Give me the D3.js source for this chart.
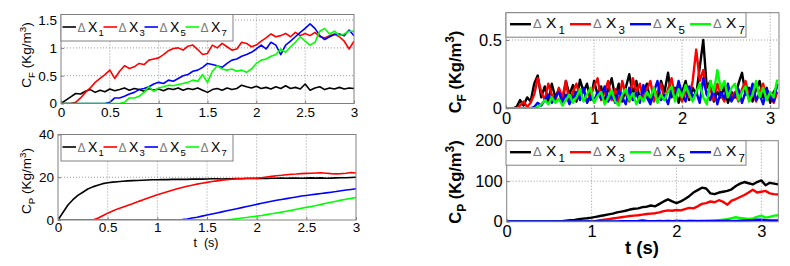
<!DOCTYPE html>
<html><head><meta charset="utf-8">
<script src="https://cdn.jsdelivr.net/npm/d3@7"></script>
<style>
body{margin:0;background:#fff}
svg{display:block}
text{font-family:"Liberation Sans",Arial,Helvetica,sans-serif}
</style>
</head><body>
<svg id="c" width="790" height="266"></svg>
<script>
// ---------------- DATA ----------------
// Left panels sampled every 0.05 s (t = 0 … 3)
const leftStep = 0.05;
// Top-left C_F
const tlX1 = [0,0.06,0.12,0.18,0.17,0.22,0.25,0.2,0.24,0.21,
 0.26,0.23,0.25,0.28,0.24,0.27,0.25,0.22,0.27,0.24,
 0.26,0.23,0.27,0.25,0.28,0.24,0.27,0.25,0.28,0.24,
 0.2,0.25,0.27,0.24,0.28,0.25,0.27,0.33,0.3,0.28,
 0.31,0.27,0.29,0.26,0.3,0.27,0.32,0.27,0.29,0.26,
 0.35,0.24,0.28,0.3,0.25,0.28,0.26,0.29,0.26,0.28,
 0.27];
const tlX3 = [0,0,0,0.02,0.1,0.2,0.28,0.38,0.45,0.52,
 0.6,0.45,0.58,0.68,0.63,0.66,0.72,0.7,0.78,0.8,
 0.82,0.88,0.95,0.99,1.0,0.96,1.03,1.05,0.97,0.88,
 0.9,1.05,1.0,1.08,1.02,0.96,0.98,1.1,1.08,1.02,
 1.05,1.12,1.18,1.25,1.2,1.22,1.26,1.2,1.28,1.22,
 1.26,1.22,1.28,1.2,1.18,1.22,1.25,1.2,1.12,0.98,
 1.12];
const tlX5 = [0,0,0,0,0,0,0,0,0,0,
 0.02,0.1,0.1,0.13,0.17,0.2,0.25,0.27,0.3,0.35,
 0.38,0.36,0.42,0.4,0.45,0.5,0.52,0.58,0.6,0.65,
 0.72,0.7,0.68,0.65,0.72,0.78,0.8,0.85,0.88,0.92,
 0.98,1.05,0.98,1.1,1.05,0.88,1.05,1.12,1.2,1.28,
 1.35,1.43,1.35,1.22,1.15,1.2,1.24,1.25,1.22,1.32,
 1.22];
const tlX7 = [0,0,0,0,0,0,0,0,0,0,
 0,0,0,0.02,0.1,0.1,0.13,0.2,0.3,0.22,
 0.28,0.3,0.33,0.32,0.34,0.36,0.38,0.42,0.4,0.52,
 0.38,0.58,0.68,0.62,0.6,0.62,0.58,0.6,0.56,0.62,
 0.72,0.78,0.8,0.85,0.88,0.98,0.92,1.02,1.1,1.2,
 1.12,1.05,1.1,1.3,1.35,1.25,1.3,1.22,1.25,1.3,
 1.3];
// Bottom-left C_P
const blX1 = [0,3.5,7,9.5,11.5,13,14.5,15.5,16.3,17,
 17.4,17.7,17.9,18.1,18.3,18.4,18.5,18.6,18.7,18.8,
 18.8,18.9,18.9,19,19,19,19,19.1,19.1,19.1,
 19.2,19.3,19.3,19.2,19.3,19.3,19.4,19.3,19.4,19.4,
 19.4,19.5,19.4,19.5,19.5,19.6,19.5,19.6,19.6,19.5,
 19.6,19.7,19.6,19.7,19.5,19.6,19.7,19.8,19.8,19.9,
 20];
const blX3 = [0,0,0,0,0,0,0,0,0.8,2,
 3.2,4.2,5.2,6,6.8,7.6,8.5,9.3,10.2,11,
 11.8,12.5,13.2,13.9,14.6,15.2,15.8,16.3,16.8,17.2,
 17.6,18,18.3,18.6,18.9,19.1,19.3,19.4,19.5,19.5,
 19.6,19.8,20.1,20.4,20.7,20.9,21.2,21.4,21.5,21.7,
 21.8,21.9,22,22.1,21.9,21.7,21.6,21.7,21.9,22.2,
 22];
const blX5 = [0,0,0,0,0,0,0,0,0,0,
 0,0,0,0,0,0,0,0,0,0,
 0,0,0,0,0,0.2,0.5,0.9,1.3,1.8,
 2.3,2.8,3.3,3.8,4.3,4.8,5.3,5.8,6.3,6.8,
 7.3,7.8,8.3,8.8,9.2,9.6,10,10.4,10.8,11.2,
 11.5,11.8,12.1,12.4,12.7,13,13.3,13.7,14,14.3,
 14.6];
const blX7 = [0,0,0,0,0,0,0,0,0,0,
 0,0,0,0,0,0,0,0,0,0,
 0,0,0,0,0,0,0,0,0,0,
 0,0,0,0,0.1,0.3,0.6,0.9,1.2,1.5,
 1.8,2.1,2.5,2.9,3.3,3.7,4.1,4.5,5,5.5,
 5.9,6.3,6.8,7.3,7.8,8.3,8.8,9.3,9.7,10.1,
 10.5];

// Top-right C_F sampled every 0.04 s
const trStep = 0.04;
const trX1 = [0,0,0,0.01,0.06,0.02,0.08,0.05,0.18,0.24,
 0.08,0.16,0.05,0.18,0.08,0.14,0.04,0.2,0.1,0.17,
 0.05,0.21,0.12,0.18,0.06,0.2,0.1,0.16,0.04,0.14,
 0.22,0.08,0.18,0.05,0.15,0.25,0.1,0.2,0.06,0.12,
 0.18,0.05,0.15,0.08,0.2,0.12,0.26,0.08,0.15,0.04,
 0.12,0.2,0.06,0.15,0.1,0.3,0.5,0.15,0.2,0.05,
 0.12,0.08,0.16,0.04,0.12,0.08,0.18,0.26,0.1,0.15,
 0.05,0.14,0.2,0.08,0.15,0.04,0.12,0.16];
const trX3 = [0,0,0,0,0.02,0.05,0.01,0.04,0.1,0.22,
 0.12,0.06,0.18,0.1,0.05,0.15,0.08,0.2,0.04,0.12,
 0.18,0.08,0.14,0.05,0.1,0.16,0.22,0.06,0.12,0.2,
 0.06,0.14,0.04,0.2,0.1,0.05,0.22,0.12,0.18,0.06,
 0.14,0.2,0.05,0.12,0.18,0.06,0.14,0.22,0.08,0.16,
 0.05,0.12,0.08,0.2,0.43,0.2,0.28,0.1,0.14,0.06,
 0.18,0.1,0.05,0.16,0.08,0.12,0.05,0.14,0.2,0.08,
 0.16,0.05,0.12,0.18,0.06,0.1,0.04,0.12];
const trX5 = [0,0,0,0,0,0,0,0,0.01,0.04,
 0.02,0.06,0.1,0.04,0.08,0.12,0.05,0.1,0.03,0.08,
 0.12,0.06,0.15,0.04,0.09,0.05,0.12,0.07,0.16,0.05,
 0.1,0.04,0.13,0.08,0.03,0.15,0.06,0.11,0.04,0.17,
 0.08,0.03,0.12,0.2,0.06,0.1,0.03,0.14,0.08,0.2,
 0.1,0.05,0.16,0.08,0.12,0.04,0.22,0.1,0.06,0.15,
 0.03,0.12,0.07,0.18,0.05,0.1,0.14,0.04,0.12,0.08,
 0.18,0.06,0.1,0.03,0.14,0.08,0.05,0.18];
const trX7 = [0,0,0,0,0,0,0,0,0,0.01,
 0.03,0.06,0.03,0.08,0.04,0.07,0.02,0.06,0.1,0.04,
 0.08,0.14,0.05,0.1,0.15,0.04,0.09,0.12,0.03,0.08,
 0.13,0.05,0.02,0.1,0.14,0.06,0.11,0.03,0.09,0.05,
 0.12,0.08,0.15,0.04,0.1,0.06,0.12,0.16,0.05,0.14,
 0.08,0.17,0.1,0.05,0.12,0.18,0.08,0.03,0.2,0.12,
 0.28,0.14,0.2,0.08,0.15,0.18,0.06,0.12,0.16,0.05,
 0.1,0.2,0.08,0.15,0.06,0.12,0.08,0.21];

// Bottom-right C_P sampled every 0.05 s (t = 0 … 3.2)
const brStep = 0.05;
const brX1 = [0,0,0,0,0,0,0,0,0,0,
 0.2,0.5,1,1.5,2.5,3.5,4.5,6,7.5,8.5,
 10,12,14,16,18,20,23,25,27,30,
 32,33,36,37,40,38,44,50,55,50,
 46,50,56,63,72,78,84,82,70,68,
 72,74,76,80,88,94,98,95,92,98,
 102,90,96,94,92];
const brX3 = [0,0,0,0,0,0,0,0,0,0,
 0,0,0,0,0,0,0,0,0.3,0.6,
 1,2,3.5,5,6.5,8,9.5,11,12.5,14,
 15,16,17.5,19,20,21,23,26,28,27,
 29,28,31,34,33,38,44,46,50,48,
 53,49,42,52,56,61,66,72,79,72,
 74,76,70,68,67];
const brX5 = [0,0,0,0,0,0,0,0,0,0,
 0,0,0,0,0,0,0,0,0,0,
 0,0,0,0,0,0,0,0,0,0,
 0,0,0,0,0,0,0,1,2,1,
 2,1,1.5,2,1,2,1.5,2,3,2.5,
 4,5,6,9,11,9,8,7,8,12,
 15,10,12,15,16];
const brX7 = [0.5,0.5,0.5,0.5,0.5,0.5,0.5,0.5,0.5,0.5,
 0.5,0.5,0.5,0.5,0.5,0.5,0.5,0.5,0.5,0.5,
 0.5,0.5,0.5,0.5,0.5,0.8,0.8,1,1,1,
 1.5,2,3,2,1.5,1.5,2,1.5,2,1.5,
 2,2,1.5,2,2,1.5,2,2,1.5,2,
 2,2,2.5,2,2,2.5,3,3,4,5,
 5,4,3,3,3];

// Tick values / labels
const leftXTicks = [0,0.5,1,1.5,2,2.5,3];
const tlYTicks = [0,0.5,1,1.5];
const blYTicks = [0,20,40];
const rightXTicks = [0,1,2,3];
const trYTicks = [0,0.5];
const brYTicks = [0,100,200];
const legendSubs = ["1","3","5","7"];
const colBlack = "#000000", colRed = "#ff0000", colBlue = "#0000ff", colGreen = "#00ff00";

// ---------------- DRAW ----------------
const FONT = '"Liberation Sans",Arial,Helvetica,sans-serif';
const svg = d3.select("#c");
let clipId = 0;

function panel(p){
  const g = svg.append("g");
  const b = p.box;
  const x = d3.scaleLinear().domain(p.xd).range([b.x0, b.x1]);
  const y = d3.scaleLinear().domain(p.yd).range([b.y1, b.y0]);
  g.append("rect").attr("x",b.x0).attr("y",b.y0).attr("width",b.x1-b.x0).attr("height",b.y1-b.y0).attr("fill","#fff");
  // grid
  g.selectAll(".gx").data(p.xGrid).join("line")
    .attr("x1",d=>x(d)).attr("x2",d=>x(d)).attr("y1",b.y0).attr("y2",b.y1)
    .attr("stroke","#808080").attr("stroke-width",0.8).attr("stroke-dasharray","1,2");
  g.selectAll(".gy").data(p.yGrid).join("line")
    .attr("y1",d=>y(d)).attr("y2",d=>y(d)).attr("x1",b.x0).attr("x2",b.x1)
    .attr("stroke","#808080").attr("stroke-width",0.8).attr("stroke-dasharray","1,2");
  // clip
  const cid = "clip" + (clipId++);
  g.append("clipPath").attr("id",cid).append("rect")
    .attr("x",b.x0).attr("y",b.y0).attr("width",b.x1-b.x0).attr("height",b.y1-b.y0);
  const line = d3.line().x((d,i)=>x(i*p.step)).y(d=>y(d));
  p.series.forEach(s=>{
    g.append("path").datum(s.values).attr("clip-path",`url(#${cid})`)
      .attr("d",line).attr("fill","none").attr("stroke",s.color)
      .attr("stroke-width",p.lw).attr("stroke-linejoin","round");
  });
  // axes
  const ax = d3.axisBottom(x).tickValues(p.xTicks).tickFormat(d=>String(d))
    .tickSizeInner(-3).tickSizeOuter(0).tickPadding(p.xpad);
  const axG = g.append("g").attr("transform",`translate(0,${b.y1})`).call(ax);
  axG.select(".domain").remove();
  axG.attr("font-family",FONT).attr("font-size",p.fs);
  axG.selectAll("line").attr("stroke","#808080");
  axG.selectAll("text").attr("fill","#000");
  const ay = d3.axisLeft(y).tickValues(p.yTicks).tickFormat(d=>String(d))
    .tickSizeInner(-3).tickSizeOuter(0).tickPadding(p.ypad);
  const ayG = g.append("g").attr("transform",`translate(${b.x0},0)`).call(ay);
  ayG.select(".domain").remove();
  ayG.attr("font-family",FONT).attr("font-size",p.fs);
  ayG.selectAll("line").attr("stroke","#808080");
  ayG.selectAll("text").attr("fill","#000");
  // box
  g.append("rect").attr("x",b.x0).attr("y",b.y0).attr("width",b.x1-b.x0).attr("height",b.y1-b.y0)
    .attr("fill","none").attr("stroke","#808080").attr("stroke-width",1);
  // legend
  const L = p.leg;
  g.append("rect").attr("x",L.x).attr("y",L.y).attr("width",L.w).attr("height",L.h)
    .attr("fill","#fff").attr("stroke","#808080").attr("stroke-width",1);
  p.series.forEach((s,i)=>{
    const ox = L.x0 + i*L.item;
    g.append("line").attr("x1",ox).attr("x2",ox+L.lineLen)
      .attr("y1",L.y+L.lineY).attr("y2",L.y+L.lineY)
      .attr("stroke",s.color).attr("stroke-width",p.lw);
    g.append("text").attr("x",ox+L.dX).attr("y",L.y+L.base).attr("font-size",L.dfs)
      .attr("fill","#777").text("\u0394");
    g.append("text").attr("x",ox+L.xX).attr("y",L.y+L.base).attr("font-size",L.fs)
      .attr("fill","#000").text("X");
    g.append("text").attr("x",ox+L.sX).attr("y",L.y+L.subBase).attr("font-size",L.sfs)
      .attr("fill","#000").text(s.sub);
  });
  // y label
  const yl = g.append("text").attr("transform",`translate(${p.yl.x},${p.yl.y}) rotate(-90)`)
    .attr("text-anchor","middle").attr("font-size",p.yl.fs).attr("font-weight",p.yl.fw).attr("fill","#000");
  yl.append("tspan").text("C");
  yl.append("tspan").attr("font-size",p.yl.fs*0.72).attr("dy",p.yl.fs*0.3).text(p.yl.sub);
  yl.append("tspan").attr("dy",-p.yl.fs*0.3).text("\u00a0(Kg/m");
  yl.append("tspan").attr("font-size",p.yl.fs*0.72).attr("dy",-p.yl.fs*0.4).text("3");
  yl.append("tspan").attr("dy",p.yl.fs*0.4).text(")");
  if (p.xl){
    g.append("text").attr("x",p.xl.x).attr("y",p.xl.y).attr("text-anchor","middle")
      .attr("font-size",p.xl.fs).attr("font-weight",p.xl.fw).attr("fill","#000").text(p.xl.text);
  }
}

const leftLegend = (top)=>({x:61,y:top,w:172,h:26.5,x0:62.5,item:41,lineLen:13.5,lineY:12.5,
  dX:15,xX:25.5,sX:36,base:17.5,subBase:21.5,fs:14,dfs:12,sfs:9.5});
const rightLegend = (top)=>({x:506,y:top,w:240,h:24.5,x0:510,item:60,lineLen:21,lineY:11.5,
  dX:23,xX:36,sX:48.5,base:15,subBase:21,fs:15.5,dfs:13,sfs:11.5});

// Top-left
panel({
  box:{x0:61,x1:354,y0:14.5,y1:103.5}, xd:[0,3], yd:[0,1.6], step:leftStep,
  xTicks:leftXTicks, yTicks:tlYTicks, xGrid:[0.5,1,1.5,2,2.5], yGrid:[0.5,1,1.5],
  fs:13.5, xpad:4, ypad:4, lw:1.6,
  series:[{values:tlX1,color:colBlack,sub:legendSubs[0]},{values:tlX3,color:colRed,sub:legendSubs[1]},
          {values:tlX5,color:colBlue,sub:legendSubs[2]},{values:tlX7,color:colGreen,sub:legendSubs[3]}],
  leg:leftLegend(14.5),
  yl:{x:31,y:55,fs:13.5,fw:"normal",sub:"F"}
});
// Bottom-left
panel({
  box:{x0:58,x1:356,y0:134.5,y1:220}, xd:[0,3], yd:[0,40], step:leftStep,
  xTicks:leftXTicks, yTicks:blYTicks, xGrid:[0.5,1,1.5,2,2.5], yGrid:[20],
  fs:13.5, xpad:2, ypad:4, lw:1.6,
  series:[{values:blX1,color:colBlack,sub:legendSubs[0]},{values:blX3,color:colRed,sub:legendSubs[1]},
          {values:blX5,color:colBlue,sub:legendSubs[2]},{values:blX7,color:colGreen,sub:legendSubs[3]}],
  leg:leftLegend(134.5),
  yl:{x:31,y:181,fs:13.5,fw:"normal",sub:"P"},
  xl:{x:206,y:247,fs:12.5,fw:"normal",text:"t\u00a0 (s)"}
});
// Top-right
panel({
  box:{x0:506,x1:779,y0:12.7,y1:108.3}, xd:[0,3.1], yd:[0,0.7], step:trStep,
  xTicks:rightXTicks, yTicks:trYTicks, xGrid:[1,2,3], yGrid:[0.5],
  fs:16.5, xpad:4, ypad:4, lw:2.4,
  series:[{values:trX1,color:colBlack,sub:legendSubs[0]},{values:trX3,color:colRed,sub:legendSubs[1]},
          {values:trX5,color:colBlue,sub:legendSubs[2]},{values:trX7,color:colGreen,sub:legendSubs[3]}],
  leg:rightLegend(12.7),
  yl:{x:461,y:72,fs:16.5,fw:"bold",sub:"F"}
});
// Bottom-right (ΔX5 green, ΔX7 blue)
panel({
  box:{x0:506.7,x1:778.3,y0:140.7,y1:221.7}, xd:[0,3.2], yd:[0,200], step:brStep,
  xTicks:rightXTicks, yTicks:brYTicks, xGrid:[1,2,3], yGrid:[100],
  fs:16.5, xpad:4, ypad:4, lw:2.4,
  series:[{values:brX1,color:colBlack,sub:legendSubs[0]},{values:brX3,color:colRed,sub:legendSubs[1]},
          {values:brX5,color:colGreen,sub:legendSubs[2]},{values:brX7,color:colBlue,sub:legendSubs[3]}],
  leg:rightLegend(140.7),
  yl:{x:461,y:182,fs:16.5,fw:"bold",sub:"P"},
  xl:{x:642,y:254,fs:18.5,fw:"bold",text:"t (s)"}
});
</script>
</body></html>
